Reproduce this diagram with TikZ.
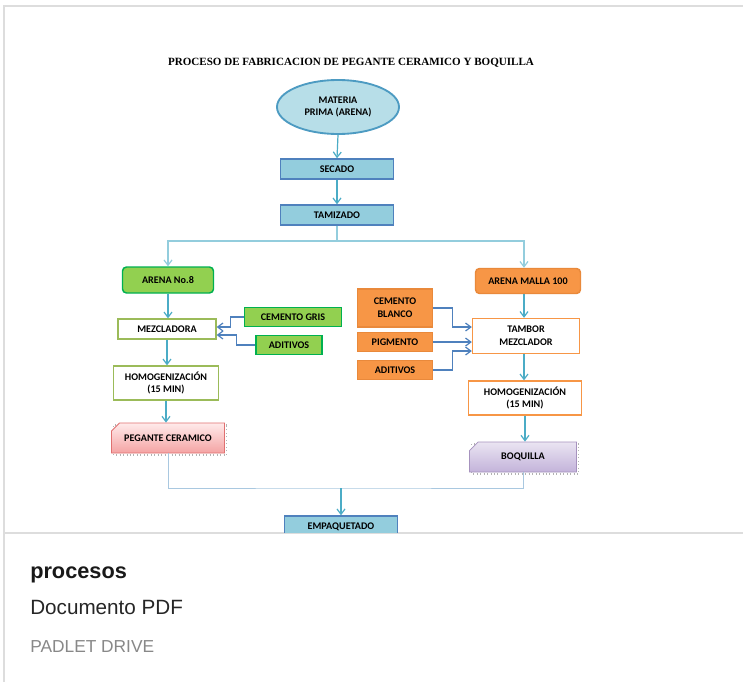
\documentclass[tikz,border=0pt]{standalone}
\usepackage{fontspec}
\setmainfont{Carlito}
\newfontfamily\titlefont{Liberation Serif}
\newfontfamily\cardfont{Liberation Sans}
\usetikzlibrary{arrows.meta,shapes.geometric,shapes.misc}

\definecolor{cielo}{HTML}{B7DEE8}
\definecolor{celeste}{HTML}{93CDDD}
\definecolor{azulborde}{HTML}{4F81BD}
\definecolor{azulflecha}{HTML}{4BACC6}
\definecolor{verde}{HTML}{92D050}
\definecolor{verdeborde}{HTML}{00B050}
\definecolor{oliva}{HTML}{9BBB59}
\definecolor{naranja}{HTML}{F79646}
\definecolor{naranjaborde}{HTML}{E46C0A}
\definecolor{rosa}{HTML}{F4A3A3}
\definecolor{rosaborde}{HTML}{E07070}
\definecolor{lila}{HTML}{C3B3DA}
\definecolor{lilaborde}{HTML}{8064A2}
\definecolor{unionlinea}{HTML}{A9C8E0}
\definecolor{tarjeta}{HTML}{DDDDDD}
\definecolor{gristexto}{HTML}{888888}

\begin{document}
\begin{tikzpicture}[x=0.75pt,y=-0.75pt]

    \tikzset{
        paso/.style={
            draw,
            inner sep=0pt,
            align=center,
            font=\bfseries\fontsize{7.6}{9.5}\selectfont
        },
        azul/.style={paso, fill=celeste, draw=azulborde, line width=1.1pt},
        verdebox/.style={paso, fill=verde, draw=verdeborde, line width=1.1pt},
        naranjabox/.style={paso, fill=naranja, draw=naranjaborde!80, line width=1.1pt},
        blanco/.style={paso, fill=white, line width=1pt},
        producto/.style={
            paso,
            chamfered rectangle,
            chamfered rectangle corners=north west,
            chamfered rectangle xsep=7pt,
            chamfered rectangle ysep=3.5pt,
            line width=0.6pt
        },
        sombra/.style={draw=gray!60, dotted, line width=0.8pt, fill=none},
        flecha/.style={-{Straight Barb[length=4pt,width=6pt]}, draw=azulflecha, line width=0.9pt},
        entrada/.style={-{Straight Barb[length=4pt,width=6pt]}, draw=azulborde, line width=0.9pt}
    }

    % tarjeta
    \useasboundingbox (0,0) rectangle (743,682);
    \fill[white] (0,0) rectangle (743,682);
    \draw[tarjeta, line width=1.5pt] (4,682) -- (4,6) -- (743,6);
    \draw[tarjeta, line width=1.5pt] (4,533) -- (743,533);

    % titulo
    \node[font=\titlefont\bfseries\fontsize{8.3}{10}\selectfont] (titulo) at (351,62.5)
        {PROCESO DE FABRICACION DE PEGANTE CERAMICO Y BOQUILLA};

    % tronco
    \node[paso, ellipse, fill=cielo, draw=azulflecha!60!azulborde, line width=1.4pt,
          minimum width=91.5pt, minimum height=40.5pt] (materia) at (338,107)
        {MATERIA\\PRIMA (ARENA)};
    \node[azul, minimum width=84.75pt, minimum height=15pt] (secado) at (337,169) {SECADO};
    \node[azul, minimum width=84.75pt, minimum height=15pt] (tamizado) at (337,215) {TAMIZADO};

    % rama izquierda
    \node[verdebox, rounded corners=3pt, minimum width=68.25pt, minimum height=19.5pt]
        (arena8) at (168,280) {ARENA No.8};
    \node[blanco, draw=oliva, minimum width=73.5pt, minimum height=15pt]
        (mezcladora) at (167,329) {MEZCLADORA};
    \node[verdebox, minimum width=72.75pt, minimum height=14.25pt]
        (gris) at (293,317) {CEMENTO GRIS};
    \node[verdebox, minimum width=49.5pt, minimum height=14.25pt]
        (aditivosA) at (289,345) {ADITIVOS};
    \node[blanco, draw=oliva, minimum width=78.75pt, minimum height=25.5pt]
        (homogA) at (166,383) {HOMOGENIZACIÓN\\(15 MIN)};
    \node[producto, sombra, minimum width=84.75pt, minimum height=22.5pt]
        at (170,440) {};
    \node[producto, draw=rosaborde, top color=red!8, bottom color=rosa,
          minimum width=84.75pt, minimum height=22.5pt]
        (pegante) at (168,438) {PEGANTE CERAMICO};

    % rama derecha
    \node[naranjabox, rounded corners=3pt, minimum width=78.75pt, minimum height=18.75pt]
        (malla) at (528,281) {ARENA MALLA 100};
    \node[naranjabox, minimum width=56.25pt, minimum height=28.5pt]
        (blanco) at (395,308) {CEMENTO\\BLANCO};
    \node[naranjabox, minimum width=56.25pt, minimum height=14.25pt]
        (pigmento) at (395,342) {PIGMENTO};
    \node[naranjabox, minimum width=56.25pt, minimum height=14.25pt]
        (aditivosB) at (395,370) {ADITIVOS};
    \node[blanco, draw=naranja, minimum width=80.25pt, minimum height=26.25pt]
        (tambor) at (526,336) {TAMBOR\\MEZCLADOR};
    \node[blanco, draw=naranja, minimum width=84.75pt, minimum height=25.5pt]
        (homogB) at (525,398) {HOMOGENIZACIÓN\\(15 MIN)};
    \node[producto, sombra, minimum width=80.25pt, minimum height=22.5pt]
        at (525,459) {};
    \node[producto, draw=lilaborde!70, top color=lila!35, bottom color=lila,
          minimum width=80.25pt, minimum height=22.5pt]
        (boquilla) at (523,457) {BOQUILLA};

    % empaquetado (cortado por la tarjeta)
    \begin{scope}
        \clip (0,0) rectangle (743,532);
        \node[azul, minimum width=84.75pt, minimum height=16.5pt] (empaque) at (341,527) {EMPAQUETADO};
    \end{scope}

    % puntos de union
    \coordinate (split) at (337,241);
    \coordinate (junta) at (341,488);

    % flechas del tronco
    \draw[flecha] (materia.south) -- (secado.north);
    \draw[flecha] (secado.south) -- (tamizado.north);
    \draw[draw=azulflecha!60, line width=0.9pt] (tamizado.south) -- (split);
    \draw[flecha, draw=azulflecha!60] (split) -| (arena8.north);
    \draw[flecha, draw=azulflecha!60] (split) -| ([xshift=-3pt]malla.north);

    % flechas izquierda
    \draw[flecha] (arena8.south) -- (arena8.south |- mezcladora.north);
    \draw[flecha] (mezcladora.south) -- (mezcladora.south |- homogA.north);
    \draw[flecha] (homogA.south) -- (homogA.south |- pegante.north);
    \draw[entrada] (gris.west) -- ++(-13,0) |- ([yshift=1.5pt]mezcladora.east);
    \draw[entrada] (aditivosA.west) -- ++(-19,0) |- ([yshift=-4.5pt]mezcladora.east);

    % flechas derecha
    \draw[flecha] ([xshift=-3pt]malla.south) -- ([xshift=-3pt]malla.south |- tambor.north);
    \draw[flecha] ([xshift=-1.5pt]tambor.south) -- ([xshift=-1.5pt]tambor.south |- homogB.north);
    \draw[flecha] (homogB.south) -- (homogB.south |- boquilla.north);
    \draw[entrada] (blanco.east) -- ++(19,0) |- ([yshift=6.75pt]tambor.west);
    \draw[entrada] (pigmento.east) -- (pigmento.east -| tambor.west);
    \draw[entrada] (aditivosB.east) -- ++(19,0) |- ([yshift=-11.25pt]tambor.west);

    % union final
    \draw[unionlinea, line width=0.7pt] (pegante.south) |- (junta) -| (boquilla.south);
    \draw[flecha] (junta) -- (empaque.north);

    % textos de la tarjeta
    \node[font=\cardfont\bfseries\fontsize{16.3}{18}\selectfont, anchor=base west, inner sep=0pt, text=black!90]
        (nombre) at (30,578) {procesos};
    \node[font=\cardfont\fontsize{15.5}{17}\selectfont, anchor=base west, inner sep=0pt, text=black!85]
        (tipo) at (30,614) {Documento PDF};
    \node[font=\cardfont\fontsize{13}{15}\selectfont, anchor=base west, inner sep=0pt, text=gristexto]
        (origen) at (30,652) {PADLET DRIVE};

\end{tikzpicture}
\end{document}
